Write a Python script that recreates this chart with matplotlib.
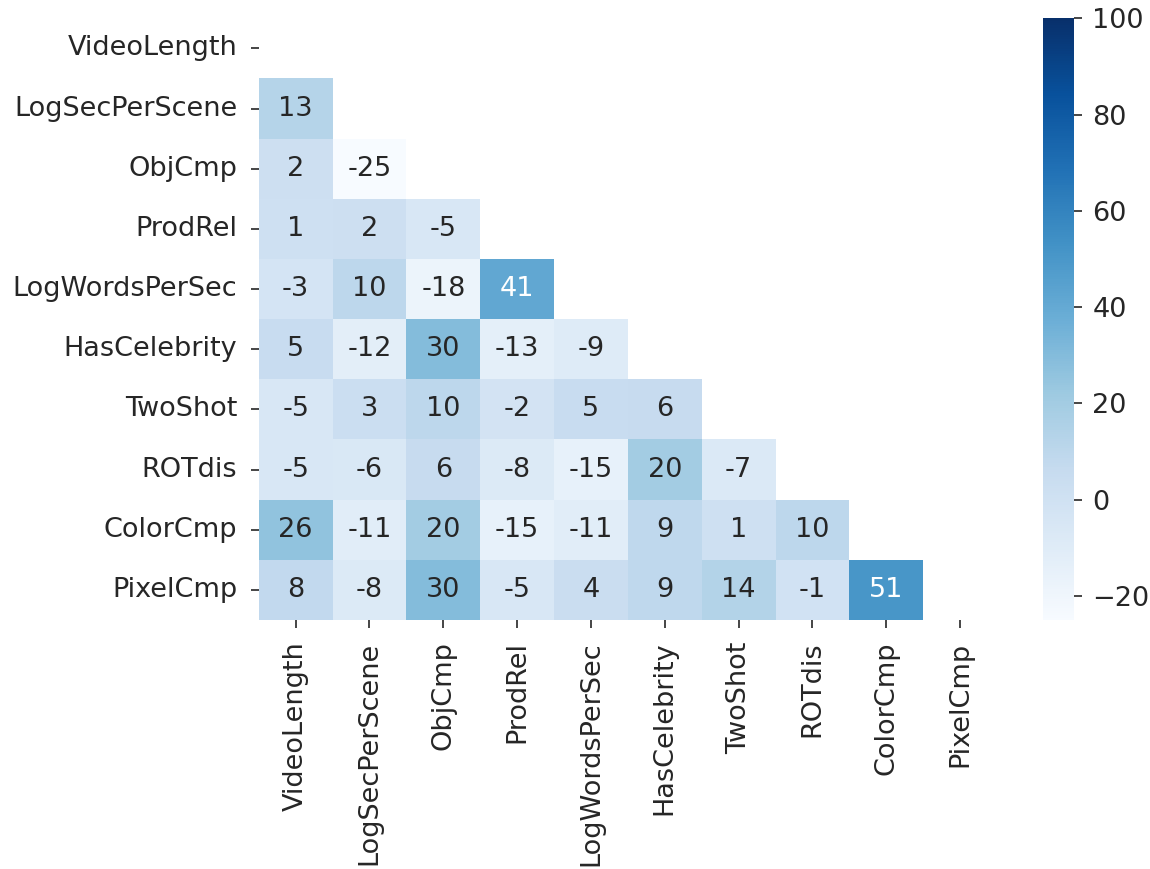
import numpy as np
import matplotlib
matplotlib.use("Agg")
import matplotlib.pyplot as plt
import seaborn as sns

labels = ["VideoLength", "LogSecPerScene", "ObjCmp", "ProdRel", "LogWordsPerSec",
          "HasCelebrity", "TwoShot", "ROTdis", "ColorCmp", "PixelCmp"]

# lower-triangle correlations (x100), row by row
row_logsecperscene = [13]
row_objcmp = [2, -25]
row_prodrel = [1, 2, -5]
row_logwordspersec = [-3, 10, -18, 41]
row_hascelebrity = [5, -12, 30, -13, -9]
row_twoshot = [-5, 3, 10, -2, 5, 6]
row_rotdis = [-5, -6, 6, -8, -15, 20, -7]
row_colorcmp = [26, -11, 20, -15, -11, 9, 1, 10]
row_pixelcmp = [8, -8, 30, -5, 4, 9, 14, -1, 51]

lower_rows = [row_logsecperscene, row_objcmp, row_prodrel, row_logwordspersec,
              row_hascelebrity, row_twoshot, row_rotdis, row_colorcmp, row_pixelcmp]

n = len(labels)
corr = np.full((n, n), 100.0)
for i, vals in enumerate(lower_rows, start=1):
    for j, v in enumerate(vals):
        corr[i, j] = v
        corr[j, i] = v

mask = np.triu(np.ones((n, n), dtype=bool))

text_col = "#262626"
fs = 13
plt.rcParams.update({
    "font.family": ["DejaVu Sans"],
    "font.size": fs,
    "text.color": text_col,
    "xtick.color": text_col,
    "ytick.color": text_col,
    "xtick.labelcolor": text_col,
    "ytick.labelcolor": text_col,
})

fig = plt.figure(figsize=(1150 / 150, 869 / 150), dpi=150)
ax = fig.add_axes([0.225, 0.2865, 0.642, 0.6925])
cax = fig.add_axes([0.907, 0.2865, 0.027, 0.6925])

sns.heatmap(corr, mask=mask, cmap="Blues", vmin=-25, vmax=100,
            annot=True, fmt=".0f", annot_kws={"fontsize": fs},
            xticklabels=labels, yticklabels=labels,
            ax=ax, cbar_ax=cax)

ax.tick_params(axis="both", labelsize=fs, length=3.8, width=0.8, pad=6.5)
plt.setp(ax.get_xticklabels(), rotation=90)
plt.setp(ax.get_yticklabels(), rotation=0)
cax.tick_params(labelsize=fs, length=3.8, width=0.8, pad=5)
cax.set_yticks([-20, 0, 20, 40, 60, 80, 100])
for s in cax.spines.values():
    s.set_visible(False)

fig.savefig("out.png", dpi=150)
